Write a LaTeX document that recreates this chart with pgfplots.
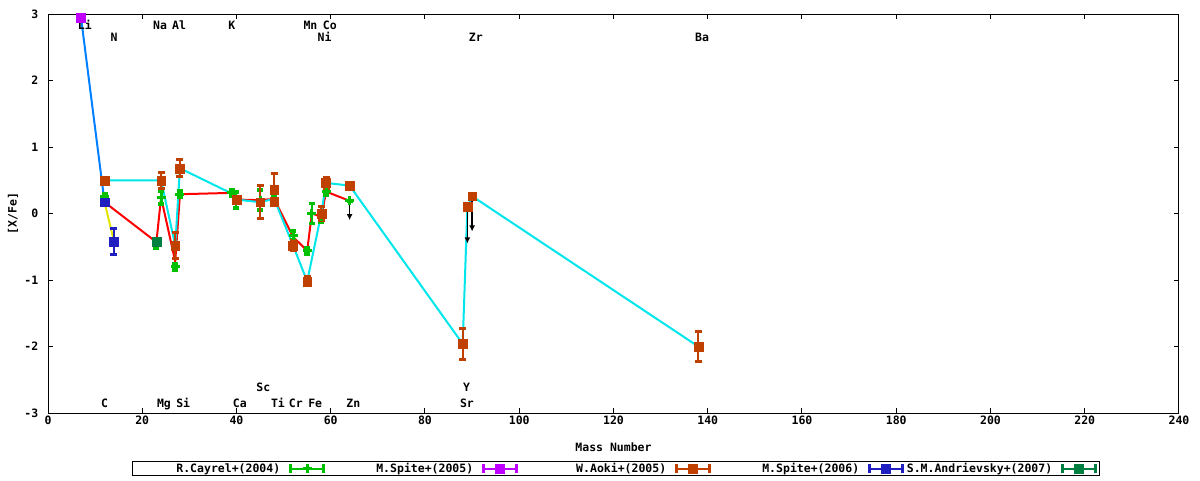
\documentclass[border=0pt]{standalone}
\usepackage{pgfplots}
\pgfplotsset{compat=1.18}
\usepackage{fontspec}
\setmainfont{DejaVu Sans Mono}
\usetikzlibrary{arrows.meta}
\definecolor{cay}{RGB}{0,192,0}
\definecolor{spa}{RGB}{192,0,255}
\definecolor{aok}{RGB}{192,64,0}
\definecolor{spb}{RGB}{32,32,192}
\definecolor{andc}{RGB}{0,128,64}
\definecolor{cyanl}{RGB}{0,230,235}
\definecolor{bluel}{RGB}{0,128,255}
\definecolor{yell}{RGB}{228,228,0}
\definecolor{redl}{RGB}{255,0,0}

\newcommand\legEB[2]{%
  \draw[#1,line width=2pt] (0pt,0pt) -- (36pt,0pt);
  \draw[#1,line width=3pt] (1.5pt,-4.5pt) -- (1.5pt,4.5pt);
  \draw[#1,line width=3pt] (34.5pt,-4.5pt) -- (34.5pt,4.5pt);
  \ifx#2s\fill[#1] (13.5pt,-4.5pt) rectangle (22.5pt,4.5pt);\else
  \draw[#1,line width=3pt] (13.5pt,0pt) -- (22.5pt,0pt) (18pt,-4.5pt) -- (18pt,4.5pt);\fi
}

\pgfplotstableread{
x y e
12 0.25 0.05
23 -0.47 0.05
24 0.24 0.10
27 -0.80 0.05
28 0.29 0.05
39 0.31 0.05
40 0.20 0.12
45 0.20 0.15
48 0.22 0.05
52 -0.33 0.07
55 -0.56 0.05
56 0.00 0.15
58 -0.05 0.08
59 0.33 0.05
64 0.19 0.00
}\cayrel

\pgfplotstableread{
x y e
7 2.95 0.05
}\spiteA

\pgfplotstableread{
x y e
12 0.50 0.00
24 0.50 0.12
27 -0.48 0.20
28 0.68 0.13
40 0.21 0.05
45 0.17 0.25
48 0.36 0.24
48 0.18 0.05
52 -0.48 0.08
55 -1.02 0.07
58 0.00 0.10
59 0.46 0.08
64 0.42 0.00
88 -1.96 0.23
89 0.10 0.00
90 0.26 0.00
138 -2.00 0.22
}\aoki

\pgfplotstableread{
x y e
12 0.17 0.00
14 -0.42 0.20
}\spiteB

\pgfplotstableread{
x y e
23 -0.42 0.00
}\andr

\pgfplotstableread{
x y
12 0.17
23 -0.43
24 0.24
27 -0.72
28 0.29
39 0.31
40 0.21
45 0.20
48 0.22
52 -0.35
55 -0.56
56 0.00
58 -0.05
59 0.33
64 0.19
}\redline

\pgfplotstableread{
x y
12 0.50
24 0.50
27 -0.48
28 0.68
39 0.30
40 0.21
45 0.17
48 0.22
52 -0.48
55 -1.02
58 0.00
59 0.46
64 0.42
88 -1.96
89 0.10
90 0.26
138 -2.00
}\cyanline

\pgfplotstableread{
x y u v
64 0.19 0 -0.29
89 0.05 0 -0.50
90 0.26 0 -0.53
}\limits

\pgfplotstableread{
x y lab
7.8 2.76 Li
23.8 2.76 Na
27.8 2.76 Al
39.0 2.76 K
55.7 2.76 Mn
59.8 2.76 Co
14.05 2.58 N
58.7 2.58 Ni
90.8 2.58 Zr
138.8 2.58 Ba
45.7 -2.67 Sc
88.8 -2.67 Y
12.0 -2.91 C
24.6 -2.91 Mg
28.7 -2.91 Si
40.7 -2.91 Ca
48.8 -2.91 Ti
52.6 -2.91 Cr
56.7 -2.91 Fe
64.8 -2.91 Zn
88.9 -2.91 Sr
}\labels

\begin{document}
\begin{tikzpicture}[font=\fontsize{11.5}{13}\selectfont\bfseries]
\path[use as bounding box] (0,0) rectangle (1200pt,480pt);
\begin{axis}[
  at={(48pt,67pt)}, anchor=south west,
  scale only axis, width=1131pt, height=399pt,
  xmin=0, xmax=240, ymin=-3, ymax=3,
  xtick={0,20,...,240},
  xticklabels={0,20,40,60,80,100,120,140,160,180,200,220,240},
  ytick={-3,-2,-1,0,1,2,3},
  yticklabels={-3,-2,-1,0,1,2,3},
  minor tick num=0,
  tick align=inside, tick pos=both, major tick length=5pt,
  every tick/.style={black, line width=1pt},
  axis line style={line width=1pt},
  xticklabel style={inner sep=0pt, anchor=north, yshift=-3pt},
  yticklabel style={inner sep=0pt, anchor=east, xshift=-9.5pt},
  xlabel={Mass Number}, ylabel={\lbrack X/Fe\rbrack},
  xlabel style={at={(axis description cs:0.5,-0.0852)}, anchor=center, inner sep=0pt},
  ylabel style={at={(axis description cs:-0.031,0.5)}, anchor=center, inner sep=0pt},
  legend style={at={(axis description cs:0.502,-0.1391)}, anchor=center,
    legend columns=5, draw=black, line width=1pt, inner xsep=1pt, inner ysep=1pt,
    column sep=0pt, nodes={inner sep=1pt}},
  legend plot pos=right,
  legend cell align=right,
]
% element labels
\addplot[forget plot, only marks, mark=*, mark size=0pt, mark options={draw=none,fill=none},
  nodes near coords, point meta=explicit symbolic,
  every node near coord/.style={anchor=base, inner sep=0pt, black}]
  table[x=x, y=y, meta=lab] {\labels};
% connecting lines
\addplot[forget plot, bluel, line width=2pt, mark=none] coordinates {(7,2.95) (12,0.17)};
\addplot[forget plot, yell, line width=2pt, mark=none] coordinates {(12,0.17) (14,-0.42)};
\addplot[forget plot, redl, line width=2pt, mark=none] table[x=x,y=y] {\redline};
\addplot[forget plot, cyanl, line width=2pt, mark=none] table[x=x,y=y] {\cyanline};
% upper limits
\addplot[forget plot, black, line width=1.5pt, -{Latex[length=6pt,width=6pt]},
  quiver={u=\thisrow{u}, v=\thisrow{v}}] table[x=x,y=y] {\limits};
% data series
\addplot[cay, only marks, mark=+, mark size=4.5pt, mark options={line width=3pt, cay},
  legend image code/.code={\legEB{cay}{p}},
  error bars/.cd, y dir=both, y explicit,
  error bar style={line width=2pt, cay},
  error mark options={rotate=90, mark size=3pt, line width=3.5pt, cay}]
  table[x=x, y=y, y error=e] {\cayrel};
\addlegendentry{\makebox[146pt][r]{R.Cayrel+(2004)}\hspace*{7pt}}
\addplot[spa, only marks, mark=square*, mark size=4.4pt, mark options={spa, line width=0.3pt},
  legend image code/.code={\legEB{spa}{s}},
  error bars/.cd, y dir=both, y explicit,
  error bar style={line width=2pt, spa},
  error mark options={rotate=90, mark size=3.5pt, line width=3pt, spa}]
  table[x=x, y=y, y error=e] {\spiteA};
\addlegendentry{\makebox[146pt][r]{M.Spite+(2005)}\hspace*{7pt}}
\addplot[aok, only marks, mark=square*, mark size=4.4pt, mark options={aok, line width=0.3pt},
  legend image code/.code={\legEB{aok}{s}},
  error bars/.cd, y dir=both, y explicit,
  error bar style={line width=2pt, aok},
  error mark options={rotate=90, mark size=3.5pt, line width=3pt, aok}]
  table[x=x, y=y, y error=e] {\aoki};
\addlegendentry{\makebox[146pt][r]{W.Aoki+(2005)}\hspace*{7pt}}
\addplot[spb, only marks, mark=square*, mark size=4.4pt, mark options={spb, line width=0.3pt},
  legend image code/.code={\legEB{spb}{s}},
  error bars/.cd, y dir=both, y explicit,
  error bar style={line width=2pt, spb},
  error mark options={rotate=90, mark size=3.5pt, line width=3pt, spb}]
  table[x=x, y=y, y error=e] {\spiteB};
\addlegendentry{\makebox[146pt][r]{M.Spite+(2006)}\hspace*{7pt}}
\addplot[andc, only marks, mark=square*, mark size=4.4pt, mark options={andc, line width=0.3pt},
  legend image code/.code={\legEB{andc}{s}},
  error bars/.cd, y dir=both, y explicit,
  error bar style={line width=2pt, andc},
  error mark options={rotate=90, mark size=3.5pt, line width=3pt, andc}]
  table[x=x, y=y, y error=e] {\andr};
\addlegendentry{\makebox[146pt][r]{S.M.Andrievsky+(2007)}\hspace*{7pt}}
\end{axis}
\end{tikzpicture}
\end{document}
